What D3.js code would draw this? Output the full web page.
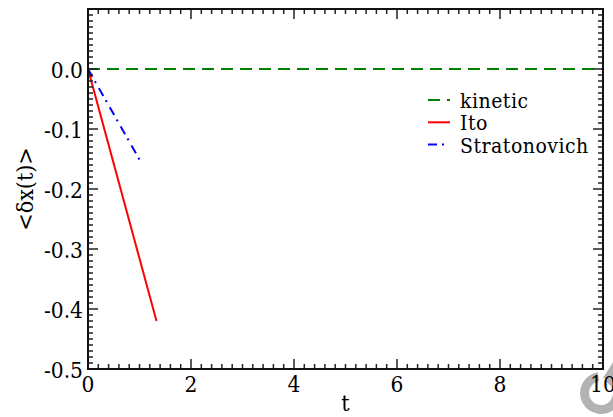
<!DOCTYPE html>
<html>
<head>
<meta charset="utf-8">
<script src="https://cdn.jsdelivr.net/npm/d3@7"></script>
<style>
  html, body { margin: 0; padding: 0; background: #fff; }
</style>
</head>
<body>
<div id="chart"></div>
<script>
// data
const kineticT = [0, 10];
const kineticX = [0, 0];
const itoT = [0, 1.33];
const itoX = [0, -0.42];
const stratT = [0, 1.04];
const stratX = [0, -0.157];

const xTicks = [0, 2, 4, 6, 8, 10];
const yTicks = [-0.5, -0.4, -0.3, -0.2, -0.1, 0.0];
const yTickLabels = ["-0.5", "-0.4", "-0.3", "-0.2", "-0.1", "0.0"];
const legendNames = ["kinetic", "Ito", "Stratonovich"];
const legendColors = ["#008000", "#ff0000", "#0000ff"];
const legendDash = ["12,7", null, "9,5,2,6"];

const width = 613;
const height = 417;
const margin = {left: 88, right: 10, top: 9, bottom: 48};
const serif = "'DejaVu Serif Condensed', 'DejaVu Serif', serif";

const svg = d3.select('#chart').append('svg')
    .attr('width', width)
    .attr('height', height)
    .style('font-family', serif)
    .style('font-stretch', 'condensed');

const x = d3.scaleLinear().domain([0, 10]).range([margin.left, width - margin.right]);
const y = d3.scaleLinear().domain([-0.5, 0.1]).range([height - margin.bottom, margin.top]);

// grey circular arrow in the corner (drawn underneath)
const icon = svg.append('g').attr('transform', 'translate(601,393)');
icon.append('path')
    .attr('d', d3.arc().innerRadius(12).outerRadius(21).startAngle(0.45).endAngle(2 * Math.PI - 0.15)())
    .attr('fill', '#b3b3b3');
icon.append('path')
    .attr('d', 'M2,-15 L16,-37 L20,-10 Z')
    .attr('fill', '#b3b3b3');

// lines
const line = d3.line().x(d => x(d[0])).y(d => y(d[1]));
const series = [
    d3.zip(kineticT, kineticX),
    d3.zip(itoT, itoX),
    d3.zip(stratT, stratX)
];
series.forEach((s, i) => {
    svg.append('path')
        .datum(s)
        .attr('d', line)
        .attr('fill', 'none')
        .attr('stroke', legendColors[i])
        .attr('stroke-width', 2)
        .attr('stroke-dasharray', legendDash[i]);
});

// ticks, inward on all four sides
const x0 = x(0), x1 = x(10), y0 = y(-0.5), y1 = y(0.1);
const tickG = svg.append('g').attr('stroke', '#222').attr('stroke-width', 1.5);
d3.range(0, 10.001, 0.2).forEach(v => {
    const major = Math.abs(v / 2 - Math.round(v / 2)) < 1e-6;
    const len = major ? 10 : 5;
    tickG.append('line').attr('x1', x(v)).attr('x2', x(v)).attr('y1', y0).attr('y2', y0 - len);
    tickG.append('line').attr('x1', x(v)).attr('x2', x(v)).attr('y1', y1).attr('y2', y1 + len);
});
d3.range(-0.5, 0.1001, 0.01).forEach(v => {
    const major = Math.abs(v * 10 - Math.round(v * 10)) < 1e-6;
    const len = major ? 10 : 5;
    tickG.append('line').attr('x1', x0).attr('x2', x0 + len).attr('y1', y(v)).attr('y2', y(v));
    tickG.append('line').attr('x1', x1).attr('x2', x1 - len).attr('y1', y(v)).attr('y2', y(v));
});

// frame
svg.append('rect')
    .attr('x', x0).attr('y', y1)
    .attr('width', x1 - x0).attr('height', y0 - y1)
    .attr('fill', 'none')
    .attr('stroke', '#111')
    .attr('stroke-width', 2);

// tick labels
svg.append('g').selectAll('text').data(xTicks).join('text')
    .attr('x', d => x(d))
    .attr('y', y0 + 23)
    .attr('text-anchor', 'middle')
    .attr('font-size', 22.5)
    .text(d => d);

svg.append('g').selectAll('text').data(yTicks).join('text')
    .attr('x', x0 - 5)
    .attr('y', d => y(d) + 8.5)
    .attr('text-anchor', 'end')
    .attr('font-size', 22.5)
    .text((d, i) => yTickLabels[i]);

// axis titles
svg.append('text')
    .attr('x', (x0 + x1) / 2)
    .attr('y', 411)
    .attr('text-anchor', 'middle')
    .attr('font-size', 23)
    .text('t');

svg.append('text')
    .attr('transform', `translate(33,${(y0 + y1) / 2}) rotate(-90)`)
    .attr('text-anchor', 'middle')
    .attr('font-size', 23)
    .text('<δx(t)>');

// legend
const legend = svg.append('g').attr('transform', 'translate(428,100)');
legendNames.forEach((name, i) => {
    const row = legend.append('g').attr('transform', `translate(0,${i * 22.3})`);
    row.append('line')
        .attr('x1', 0).attr('x2', 22)
        .attr('y1', 0).attr('y2', 0)
        .attr('stroke', legendColors[i])
        .attr('stroke-width', 2)
        .attr('stroke-dasharray', legendDash[i]);
    row.append('text')
        .attr('x', 32)
        .attr('y', 8)
        .attr('font-size', 21)
        .attr('letter-spacing', 0.5)
        .text(name);
});
</script>
</body>
</html>
